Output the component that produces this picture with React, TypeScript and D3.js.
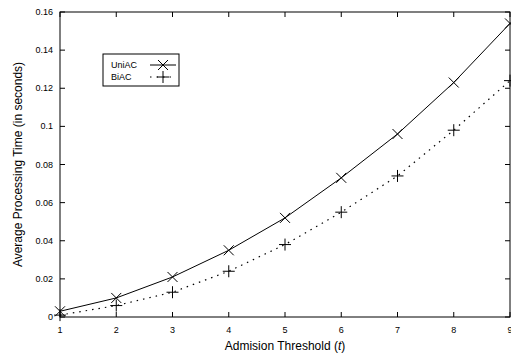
import React, { useRef, useEffect } from "react";
import * as d3 from "d3";

const thresholds = [1, 2, 3, 4, 5, 6, 7, 8, 9];
const uniAC = [0.003, 0.010, 0.021, 0.035, 0.052, 0.073, 0.096, 0.123, 0.154];
const biAC = [0.001, 0.006, 0.013, 0.024, 0.038, 0.055, 0.074, 0.098, 0.124];
const yTicks = [0, 0.02, 0.04, 0.06, 0.08, 0.1, 0.12, 0.14, 0.16];

export default function App() {
  const svgRef = useRef<SVGSVGElement>(null);

  useEffect(() => {
    const width = 511;
    const height = 356;
    const margin = { top: 12, right: 1, bottom: 39, left: 60 };
    const font = "'Liberation Sans', Arial, sans-serif";

    const svg = d3.select(svgRef.current).attr("width", width).attr("height", height);
    svg.selectAll("*").remove();

    const x = d3.scaleLinear().domain([1, 9]).range([margin.left, width - margin.right]);
    const y = d3.scaleLinear().domain([0, 0.16]).range([height - margin.bottom, margin.top]);

    const x0 = x(1), x1 = x(9), y0 = y(0), y1 = y(0.16);

    // ticks, inward on all four sides
    const g = svg.append("g").attr("stroke", "#000").attr("stroke-width", 1);
    thresholds.forEach(t => {
      g.append("line").attr("x1", x(t)).attr("x2", x(t)).attr("y1", y0).attr("y2", y0 - 5);
      g.append("line").attr("x1", x(t)).attr("x2", x(t)).attr("y1", y1).attr("y2", y1 + 5);
    });
    yTicks.forEach(v => {
      g.append("line").attr("x1", x0).attr("x2", x0 + 5).attr("y1", y(v)).attr("y2", y(v));
      g.append("line").attr("x1", x1).attr("x2", x1 - 5).attr("y1", y(v)).attr("y2", y(v));
    });

    // frame
    svg.append("rect")
      .attr("x", x0).attr("y", y1)
      .attr("width", x1 - x0).attr("height", y0 - y1)
      .attr("fill", "none").attr("stroke", "#000").attr("stroke-width", 1);

    // tick labels
    svg.append("g").selectAll("text").data(thresholds).enter().append("text")
      .attr("x", d => x(d)).attr("y", y0 + 16)
      .attr("text-anchor", "middle").attr("font-size", 9).attr("font-family", font)
      .text(d => d);

    svg.append("g").selectAll("text").data(yTicks).enter().append("text")
      .attr("x", x0 - 7).attr("y", d => y(d) + 3)
      .attr("text-anchor", "end").attr("font-size", 9).attr("font-family", font)
      .text(d => String(d));

    // axis labels
    const xl = svg.append("text")
      .attr("x", (x0 + x1) / 2).attr("y", height - 6)
      .attr("text-anchor", "middle").attr("font-size", 12).attr("font-family", font);
    xl.append("tspan").text("Admision Threshold (");
    xl.append("tspan").attr("font-style", "italic").text("t");
    xl.append("tspan").text(")");

    svg.append("text")
      .attr("transform", "rotate(-90)")
      .attr("x", -(y0 + y1) / 2).attr("y", 22)
      .attr("text-anchor", "middle").attr("font-size", 12).attr("font-family", font)
      .text("Average Processing Time (in seconds)");

    const line = d3.line<number>().x((_, i) => x(thresholds[i])).y(d => y(d));

    svg.append("path").datum(uniAC).attr("d", line)
      .attr("fill", "none").attr("stroke", "#000").attr("stroke-width", 1);
    svg.append("path").datum(biAC).attr("d", line)
      .attr("fill", "none").attr("stroke", "#000").attr("stroke-width", 1.2)
      .attr("stroke-dasharray", "1.5,5");

    const cross = (cx: number, cy: number, s = 5) =>
      `M${cx - s},${cy - s}L${cx + s},${cy + s}M${cx - s},${cy + s}L${cx + s},${cy - s}`;
    const plus = (cx: number, cy: number, s = 6) =>
      `M${cx - s},${cy}L${cx + s},${cy}M${cx},${cy - s}L${cx},${cy + s}`;

    svg.append("g").selectAll("path").data(uniAC).enter().append("path")
      .attr("d", (d, i) => cross(x(thresholds[i]), y(d)))
      .attr("stroke", "#000").attr("stroke-width", 1);
    svg.append("g").selectAll("path").data(biAC).enter().append("path")
      .attr("d", (d, i) => plus(x(thresholds[i]), y(d)))
      .attr("stroke", "#000").attr("stroke-width", 1);

    // legend
    const lg = svg.append("g");
    lg.append("rect").attr("x", 103).attr("y", 54).attr("width", 76).attr("height", 32)
      .attr("fill", "#fff").attr("stroke", "#000").attr("stroke-width", 1);
    lg.append("text").attr("x", 111).attr("y", 68).attr("font-size", 9).attr("font-family", font).text("UniAC");
    lg.append("text").attr("x", 111).attr("y", 80).attr("font-size", 9).attr("font-family", font).text("BiAC");
    lg.append("line").attr("x1", 150).attr("x2", 176).attr("y1", 65).attr("y2", 65)
      .attr("stroke", "#000");
    lg.append("path").attr("d", cross(163, 65)).attr("stroke", "#000");
    lg.append("line").attr("x1", 150).attr("x2", 176).attr("y1", 77).attr("y2", 77)
      .attr("stroke", "#000").attr("stroke-width", 1.2).attr("stroke-dasharray", "1.5,5");
    lg.append("path").attr("d", plus(163, 77)).attr("stroke", "#000");
  }, []);

  return <svg ref={svgRef} style={{ position: "absolute", left: 0, top: 0 }}></svg>;
}
